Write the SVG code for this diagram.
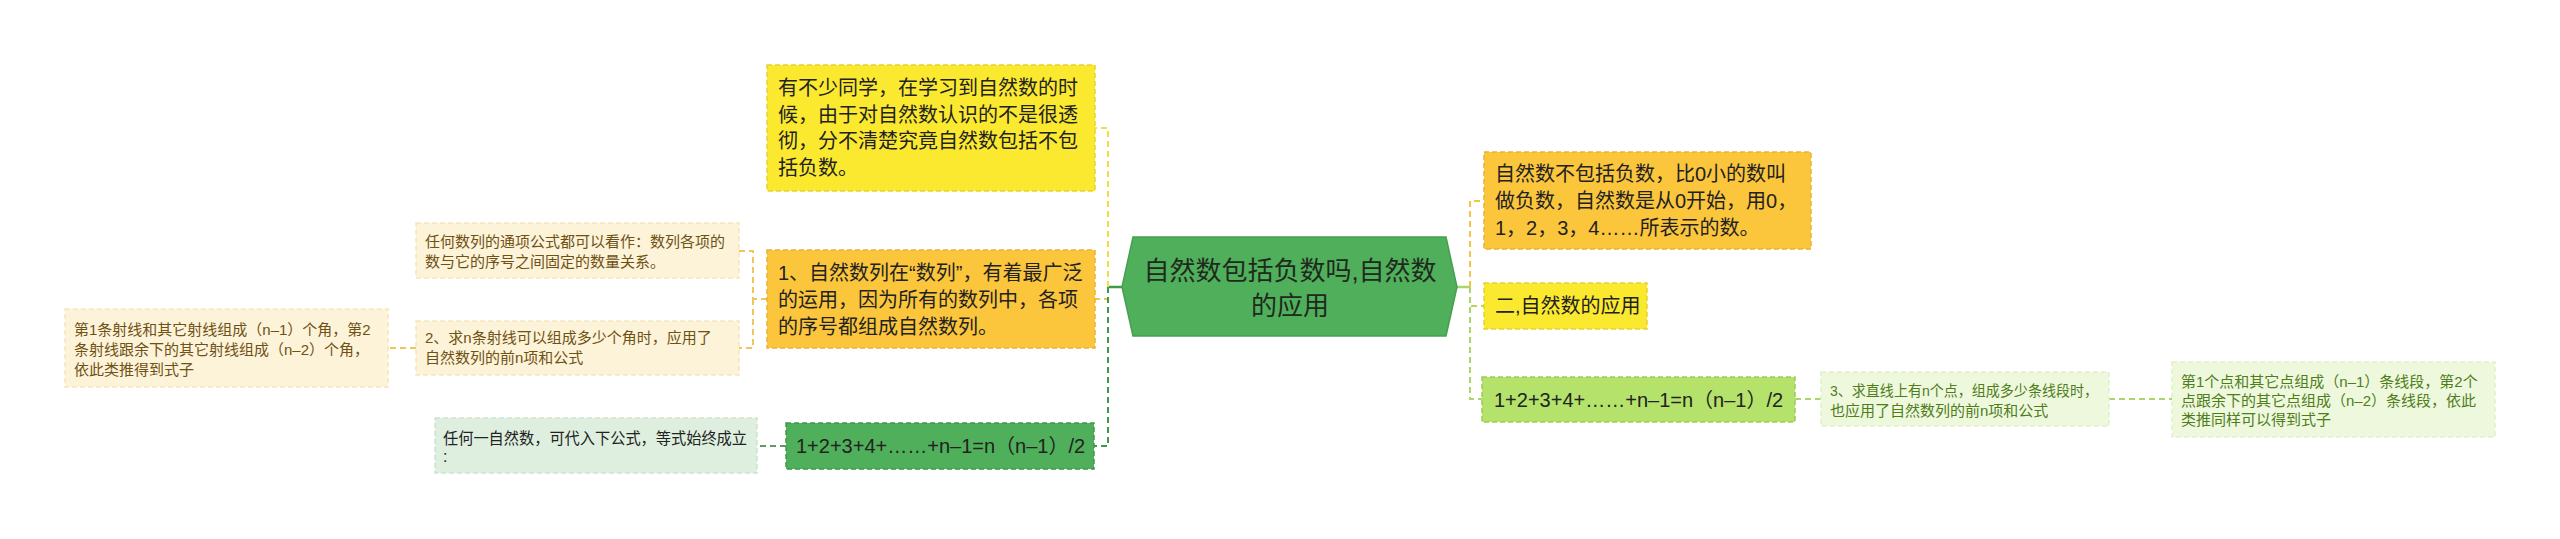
<svg xmlns="http://www.w3.org/2000/svg" width="2560" height="539" viewBox="0 0 2560 539">
<style>
text{font-family:"Liberation Sans","Noto Sans CJK SC",sans-serif;}
.t20{font-size:20px;fill:#222;}
.t15{font-size:15px;}
.t16{font-size:16px;fill:#222;}
.box{stroke-width:1.5;stroke-dasharray:5 3;}
.yel{fill:#fbe92f;stroke:#e6d32a;}
.org{fill:#fcc63c;stroke:#e8b236;}
.beige{fill:#fdf3d9;stroke:#f6e6be;}
.bt{fill:#6e5114;}
.grn{fill:#50af5a;stroke:#3f9a4a;}
.pg{fill:#deefdf;stroke:#cde3cf;}
.lg{fill:#b4e26b;stroke:#9ccb56;}
.plg{fill:#eef8dd;stroke:#e2f0cc;}
.gt{fill:#4f7d1a;}
.c{fill:none;stroke-width:2;stroke-dasharray:6 4;}
</style>
<g id="connectors">
<path d="M1122,287 H1108" fill="none" stroke="#3f9a4a" stroke-width="2.5"/>
<path class="c" d="M1108,287 V128 H1095" stroke="#f2df3a"/>
<path class="c" d="M1108,287 V299 H1095" stroke="#f6c445"/>
<path class="c" d="M1108,287 V446 H1094" stroke="#3c9a4a"/>
<path class="c" d="M767,299 H753 V251 H739" stroke="#f0c55a"/>
<path class="c" d="M753,299 V348 H739" stroke="#f0c55a"/>
<path class="c" d="M416,348 H388" stroke="#f0c55a"/>
<path class="c" d="M786,446 H757" stroke="#5c9a68"/>
<path d="M1457,287 H1470" fill="none" stroke="#a8d66a" stroke-width="2.5"/>
<path class="c" d="M1470,287 V201 H1484" stroke="#f6c445"/>
<path class="c" d="M1470,287 V306 H1484" stroke="#b8d84a"/>
<path class="c" d="M1470,287 V399 H1482" stroke="#a8d66a"/>
<path class="c" d="M1795,399 H1821" stroke="#a8d66a"/>
<path class="c" d="M2109,399 H2172" stroke="#a8d66a"/>
</g>
<g id="center">
<polygon points="1122,287 1133,237 1446,237 1457,287 1446,336 1133,336" fill="#50af5a" stroke="#45a04f" stroke-width="1.5"/>
<text x="1290" y="280" font-size="26" fill="#1f2a1f" text-anchor="middle">自然数包括负数吗,自然数</text>
<text x="1290" y="315" font-size="26" fill="#1f2a1f" text-anchor="middle">的应用</text>
</g>
<g id="n-top-yellow">
<rect class="box yel" x="767" y="65" width="328" height="126"/>
<text class="t20" x="778" y="95">有不少同学，在学习到自然数的时</text>
<text class="t20" x="778" y="122">候，由于对自然数认识的不是很透</text>
<text class="t20" x="778" y="148">彻，分不清楚究竟自然数包括不包</text>
<text class="t20" x="778" y="175">括负数。</text>
</g>
<g id="n-left-orange">
<rect class="box org" x="767" y="250" width="328" height="98"/>
<text class="t20" x="778" y="280">1、自然数列在“数列”，有着最广泛</text>
<text class="t20" x="778" y="307">的运用，因为所有的数列中，各项</text>
<text class="t20" x="778" y="334">的序号都组成自然数列。</text>
</g>
<g id="n-general-term">
<rect class="box beige" x="416" y="223" width="323" height="55"/>
<text class="t15 bt" x="425" y="247">任何数列的通项公式都可以看作：数列各项的</text>
<text class="t15 bt" x="425" y="267">数与它的序号之间固定的数量关系。</text>
</g>
<g id="n-rays">
<rect class="box beige" x="416" y="321" width="323" height="54"/>
<text class="t15 bt" x="425" y="343">2、求n条射线可以组成多少个角时，应用了</text>
<text class="t15 bt" x="425" y="363">自然数列的前n项和公式</text>
</g>
<g id="n-rays-detail">
<rect class="box beige" x="65" y="309" width="323" height="78"/>
<text class="t15 bt" x="74" y="335">第1条射线和其它射线组成（n–1）个角，第2</text>
<text class="t15 bt" x="74" y="355">条射线跟余下的其它射线组成（n–2）个角，</text>
<text class="t15 bt" x="74" y="375">依此类推得到式子</text>
</g>
<g id="n-left-formula">
<rect class="box grn" x="786" y="423" width="308" height="46"/>
<text class="t20" x="796" y="453">1+2+3+4+……+n–1=n（n–1）/2</text>
</g>
<g id="n-any-natural">
<rect class="box pg" x="435" y="418" width="322" height="55"/>
<text class="t16" x="443" y="444" textLength="304" lengthAdjust="spacingAndGlyphs">任何一自然数，可代入下公式，等式始终成立</text>
<text class="t16" x="443" y="462">:</text>
</g>
<g id="n-right-orange">
<rect class="box org" x="1484" y="152" width="327" height="97"/>
<text class="t20" x="1495" y="181">自然数不包括负数，比0小的数叫</text>
<text class="t20" x="1495" y="208">做负数，自然数是从0开始，用0，</text>
<text class="t20" x="1495" y="235">1，2，3，4……所表示的数。</text>
</g>
<g id="n-application">
<rect class="box yel" x="1484" y="283" width="163" height="46"/>
<text class="t20" x="1495" y="313">二,自然数的应用</text>
</g>
<g id="n-right-formula">
<rect class="box lg" x="1482" y="377" width="313" height="45"/>
<text class="t20" x="1494" y="407">1+2+3+4+……+n–1=n（n–1）/2</text>
</g>
<g id="n-segments">
<rect class="box plg" x="1821" y="372" width="288" height="54"/>
<text class="t15 gt" x="1830" y="396" textLength="268" lengthAdjust="spacingAndGlyphs">3、求直线上有n个点，组成多少条线段时，</text>
<text class="t15 gt" x="1830" y="416">也应用了自然数列的前n项和公式</text>
</g>
<g id="n-segments-detail">
<rect class="box plg" x="2172" y="362" width="323" height="75"/>
<text class="t15 gt" x="2181" y="387">第1个点和其它点组成（n–1）条线段，第2个</text>
<text class="t15 gt" x="2181" y="406">点跟余下的其它点组成（n–2）条线段，依此</text>
<text class="t15 gt" x="2181" y="425">类推同样可以得到式子</text>
</g>
</svg>
